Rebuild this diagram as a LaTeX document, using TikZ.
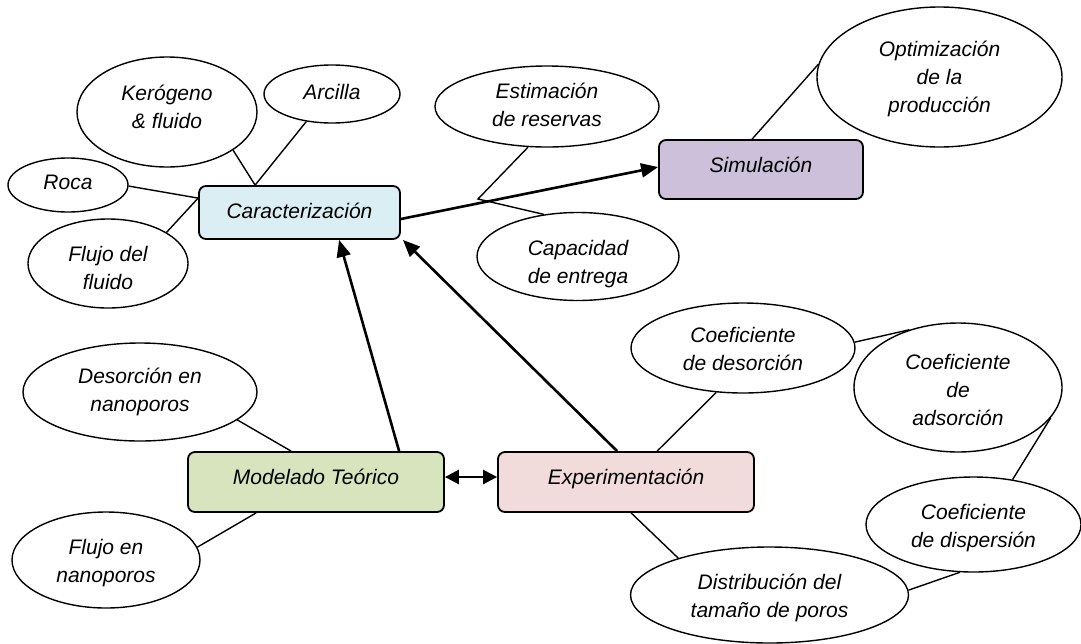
\documentclass[tikz,border=0pt]{standalone}
\usepackage{fontspec}
\setmainfont{Liberation Sans}
\usetikzlibrary{arrows.meta,shapes.geometric,calc}
\newcommand\mlines[2][0pt]{\raisebox{#1}[\height][\depth]{\begin{tabular}{@{}c@{}}#2\end{tabular}}}
\definecolor{cblue}{HTML}{DAEEF3}
\definecolor{cviolet}{HTML}{CCC0DA}
\definecolor{cgreen}{HTML}{D7E4BD}
\definecolor{cpink}{HTML}{F2DCDB}
\begin{document}
\begin{tikzpicture}[x=1pt,y=-1pt,
  every node/.style={font=\fontsize{21}{28}\selectfont\itshape},
  ell/.style={ellipse,draw,line width=1.4pt,inner sep=0pt,fill=white},
  box/.style={draw,line width=1.8pt,rounded corners=7pt,inner sep=0pt},
  link/.style={line width=1.4pt},
  arr/.style={line width=2.6pt,-{Triangle[length=17pt,width=14pt]}},
  darr/.style={line width=2.6pt,{Triangle[length=14pt,width=14pt]}-{Triangle[length=14pt,width=14pt]}},
]
\fill[white] (0,0) rectangle (1081,643);
\useasboundingbox (0,0) rectangle (1081,643);

% main boxes
\node[box,fill=cblue,minimum width=201pt,minimum height=53pt] (car) at (299.5,212.5) {\mlines{Caracterización}};
\node[box,fill=cviolet,minimum width=204pt,minimum height=59pt] (sim) at (761,169.5) {\mlines[3pt]{Simulación}};
\node[box,fill=cgreen,minimum width=256pt,minimum height=60pt] (mod) at (316,482) {\mlines[3.5pt]{Modelado Teórico}};
\node[box,fill=cpink,minimum width=256pt,minimum height=60pt] (exp) at (626,482) {\mlines[3.5pt]{Experimentación}};

% ellipses
\node[ell,minimum width=180pt,minimum height=110pt] (ker) at (167,112) {\mlines[3pt]{Kerógeno\\\& fluido}};
\node[ell,minimum width=136pt,minimum height=58pt] (arc) at (332,94) {\mlines{Arcilla}};
\node[ell,minimum width=120pt,minimum height=54pt] (roca) at (68,185) {\mlines[1.5pt]{Roca}};
\node[ell,minimum width=160pt,minimum height=89pt] (ffl) at (108,263.5) {\mlines[-6.5pt]{Flujo del\\fluido}};
\node[ell,minimum width=224pt,minimum height=81pt] (est) at (547,106.5) {\mlines{Estimación\\de reservas}};
\node[ell,minimum width=202pt,minimum height=88pt] (cap) at (578,256.5) {\mlines[-7pt]{Capacidad\\de entrega}};
\node[ell,minimum width=245pt,minimum height=140pt] (opt) at (939.5,77) {\mlines[-1.5pt]{Optimización\\de la\\producción}};
\node[ell,minimum width=224pt,minimum height=90pt] (desc) at (743,348) {\mlines[-2.5pt]{Coeficiente\\de desorción}};
\node[ell,minimum width=208pt,minimum height=129pt] (ads) at (958,387.5) {\mlines[-4pt]{Coeficiente\\de\\adsorción}};
\node[ell,minimum width=215pt,minimum height=95pt] (disp) at (973.5,524.5) {\mlines[-3pt]{Coeficiente\\de dispersión}};
\node[ell,minimum width=278pt,minimum height=96pt] (dist) at (769.5,595) {\mlines[-3pt]{Distribución del\\tamaño de poros}};
\node[ell,minimum width=234pt,minimum height=98pt] (desn) at (140,392) {\mlines{Desorción en\\nanoporos}};
\node[ell,minimum width=188pt,minimum height=96pt] (fen) at (106,560) {\mlines[-2.5pt]{Flujo en\\nanoporos}};

\coordinate (jn) at (478,199);

% plain links
\draw[link] (ker.-30) -- ([xshift=57pt]car.north west);
\draw[link] (arc.-133) -- ([xshift=57pt]car.north west);
\draw[link] (roca.-1) -- ([yshift=-13pt]car.north west);
\draw[link] (ffl.28) -- ([yshift=-13pt]car.north west);
\draw[link] (est.-115) -- (jn) -- (cap.129);
\draw[link] ([xshift=94pt]sim.north west) -- (opt.174);
\draw[link] (desn.-16) -- ([xshift=104pt]mod.north west);
\draw[link] (fen.8) -- ([xshift=69pt]mod.south west);
\draw[link] (desc.-121) -- ([xshift=160pt]exp.north west);
\draw[link] (desc.3) -- (ads.130);
\draw[link] (ads.-18) -- (disp.49);
\draw[link] (dist.2) -- (disp.-106);
\draw[link] ([xshift=134pt]exp.south west) -- (dist.158);

% arrows
\draw[arr] ([yshift=-6.5pt]car.east) -- ([yshift=2.5pt]sim.west);
\draw[arr] ([xshift=212pt]mod.north west) -- ([xshift=141pt]car.south west);
\draw[arr] ([xshift=120pt]exp.north west) -- ([xshift=2pt]car.south east);
\draw[darr] ([yshift=5pt]mod.east) -- ([yshift=5pt]exp.west);
\end{tikzpicture}
\end{document}
